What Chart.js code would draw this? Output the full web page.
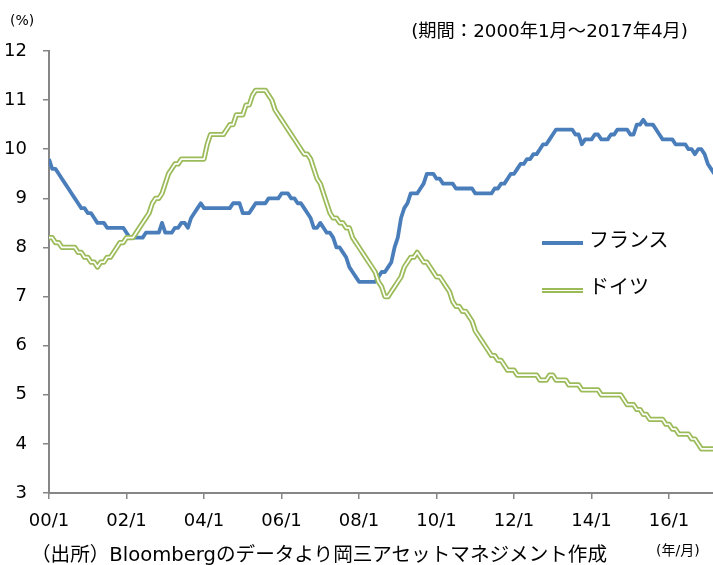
<!DOCTYPE html>
<html>
<head>
<meta charset="utf-8">
<script src="https://cdn.jsdelivr.net/npm/chart.js@4/dist/chart.umd.min.js"></script>
<style>
html,body{margin:0;padding:0;background:#fff;}
#wrap{position:relative;width:713px;height:565px;overflow:hidden;background:#fff;}
#c{position:absolute;left:0;top:0;}
.t{position:absolute;white-space:nowrap;color:#000;font-family:"DejaVu Sans","Noto Sans CJK JP",sans-serif;line-height:1;}
.sw{position:absolute;}
</style>
</head>
<body>
<div id="wrap">
<canvas id="c" width="713" height="565"></canvas>
<div class="t" style="left:10px;top:13px;font-size:14px;">(%)</div>
<div class="t" style="right:25px;top:22px;font-size:18.3px;">(期間：2000年1月～2017年4月)</div>
<div class="sw" style="left:542px;top:241px;width:41px;height:4px;background:#4A7EBB;"></div>
<div class="t" style="left:589px;top:230px;font-size:20px;">フランス</div>
<div class="sw" style="left:542px;top:288px;width:41px;height:1px;border-top:2px solid #9BBB59;border-bottom:2px solid #9BBB59;background:#fff;"></div>
<div class="t" style="left:589px;top:277px;font-size:20px;">ドイツ</div>
<div class="t" style="left:656px;top:543px;font-size:14px;">(年/月)</div>
<div class="t" style="left:31px;top:545px;font-size:19.6px;">（出所）Bloombergのデータより岡三アセットマネジメント作成</div>
</div>
<script>
// Monthly values, 2000/1 - 2017/4 (%)
const france = [
  9.8,9.6,9.6,9.5,9.4,9.3,9.2,9.1,9.0,8.9,8.8,8.8,
  8.7,8.7,8.6,8.5,8.5,8.5,8.4,8.4,8.4,8.4,8.4,8.4,
  8.3,8.2,8.2,8.2,8.2,8.2,8.3,8.3,8.3,8.3,8.3,8.5,
  8.3,8.3,8.3,8.4,8.4,8.5,8.5,8.4,8.6,8.7,8.8,8.9,
  8.8,8.8,8.8,8.8,8.8,8.8,8.8,8.8,8.8,8.9,8.9,8.9,
  8.7,8.7,8.7,8.8,8.9,8.9,8.9,8.9,9.0,9.0,9.0,9.0,
  9.1,9.1,9.1,9.0,9.0,8.9,8.9,8.8,8.7,8.6,8.4,8.4,
  8.5,8.4,8.3,8.3,8.2,8.0,8.0,7.9,7.8,7.6,7.5,7.4,
  7.3,7.3,7.3,7.3,7.3,7.3,7.4,7.5,7.5,7.6,7.7,8.0,
  8.2,8.6,8.8,8.9,9.1,9.1,9.1,9.2,9.3,9.5,9.5,9.5,
  9.4,9.4,9.3,9.3,9.3,9.3,9.2,9.2,9.2,9.2,9.2,9.2,
  9.1,9.1,9.1,9.1,9.1,9.1,9.2,9.2,9.3,9.3,9.4,9.5,
  9.5,9.6,9.7,9.7,9.8,9.8,9.9,9.9,10.0,10.1,10.1,10.2,
  10.3,10.4,10.4,10.4,10.4,10.4,10.4,10.3,10.3,10.1,10.2,10.2,
  10.2,10.3,10.3,10.2,10.2,10.2,10.3,10.3,10.4,10.4,10.4,10.4,
  10.3,10.3,10.5,10.5,10.6,10.5,10.5,10.5,10.4,10.3,10.2,10.2,
  10.2,10.2,10.1,10.1,10.1,10.1,10.0,10.0,9.9,10.0,10.0,9.9,
  9.7,9.6,9.5,9.5
];
const germany = [
  8.2,8.2,8.1,8.1,8.0,8.0,8.0,8.0,8.0,7.9,7.9,7.8,
  7.8,7.7,7.7,7.6,7.7,7.7,7.8,7.8,7.9,8.0,8.1,8.1,
  8.2,8.2,8.2,8.3,8.4,8.5,8.6,8.7,8.9,9.0,9.0,9.1,
  9.3,9.5,9.6,9.7,9.7,9.8,9.8,9.8,9.8,9.8,9.8,9.8,
  9.8,10.1,10.3,10.3,10.3,10.3,10.3,10.4,10.5,10.5,10.7,10.7,
  10.7,10.9,10.9,11.1,11.2,11.2,11.2,11.2,11.1,11.0,10.8,10.7,
  10.6,10.5,10.4,10.3,10.2,10.1,10.0,9.9,9.9,9.8,9.6,9.4,
  9.3,9.1,8.9,8.7,8.6,8.6,8.5,8.5,8.4,8.4,8.2,8.1,
  8.0,7.9,7.8,7.7,7.6,7.5,7.3,7.2,7.0,7.0,7.1,7.2,
  7.3,7.4,7.6,7.7,7.8,7.8,7.9,7.8,7.7,7.7,7.6,7.5,
  7.4,7.4,7.3,7.2,7.1,6.9,6.8,6.8,6.7,6.7,6.6,6.5,
  6.3,6.2,6.1,6.0,5.9,5.8,5.8,5.7,5.7,5.6,5.5,5.5,
  5.5,5.4,5.4,5.4,5.4,5.4,5.4,5.4,5.3,5.3,5.3,5.4,
  5.4,5.3,5.3,5.3,5.3,5.2,5.2,5.2,5.2,5.1,5.1,5.1,
  5.1,5.1,5.1,5.0,5.0,5.0,5.0,5.0,5.0,5.0,4.9,4.8,
  4.8,4.8,4.7,4.7,4.6,4.6,4.5,4.5,4.5,4.5,4.5,4.4,
  4.4,4.3,4.3,4.2,4.2,4.2,4.2,4.1,4.1,4.0,3.9,3.9,
  3.9,3.9,3.9,3.9
];
const xTickLabels = ['00/1','02/1','04/1','06/1','08/1','10/1','12/1','14/1','16/1'];
const yTickValues = [3,4,5,6,7,8,9,10,11,12];

const toPts = arr => arr.map((v, i) => ({x: i, y: v}));
const axisColor = '#868686';
const tickFont = {family: '"DejaVu Sans", sans-serif', size: 18};

new Chart(document.getElementById('c'), {
  type: 'line',
  data: {
    datasets: [
      {label: 'ドイツ', data: toPts(germany), borderColor: '#FFFFFF', borderWidth: 1.7, order: 0},
      {label: 'ドイツ', data: toPts(germany), borderColor: '#9BBB59', borderWidth: 5.2, order: 1},
      {label: 'フランス', data: toPts(france), borderColor: '#4A7EBB', borderWidth: 3.8, order: 2}
    ]
  },
  options: {
    responsive: false,
    animation: false,
    events: [],
    elements: {
      point: {radius: 0},
      line: {tension: 0, borderJoinStyle: 'round', borderCapStyle: 'butt', fill: false}
    },
    layout: {padding: {top: 51, right: 0, left: 0, bottom: 0}},
    plugins: {legend: {display: false}, tooltip: {enabled: false}, title: {display: false}},
    scales: {
      x: {
        type: 'linear',
        min: 0,
        max: 205.6,
        afterBuildTicks: s => { s.ticks = xTickLabels.map((_, k) => ({value: k * 24})); },
        afterFit: s => { s.height = 72; },
        ticks: {
          autoSkip: false,
          maxRotation: 0,
          padding: 12,
          color: '#000',
          font: tickFont,
          callback: v => xTickLabels[Math.round(v / 24)] || ''
        },
        grid: {display: true, drawOnChartArea: false, drawTicks: true, tickLength: 6, color: axisColor, lineWidth: 1.5},
        border: {display: true, color: axisColor, width: 2}
      },
      y: {
        type: 'linear',
        min: 3,
        max: 12,
        afterBuildTicks: s => { s.ticks = yTickValues.map(v => ({value: v})); },
        afterFit: s => { s.width = 49; },
        ticks: {
          padding: 16,
          color: '#000',
          font: tickFont,
          callback: v => String(v)
        },
        grid: {display: true, drawOnChartArea: false, drawTicks: true, tickLength: 6, color: axisColor, lineWidth: 1.5},
        border: {display: true, color: axisColor, width: 2}
      }
    }
  }
});
</script>
</body>
</html>
